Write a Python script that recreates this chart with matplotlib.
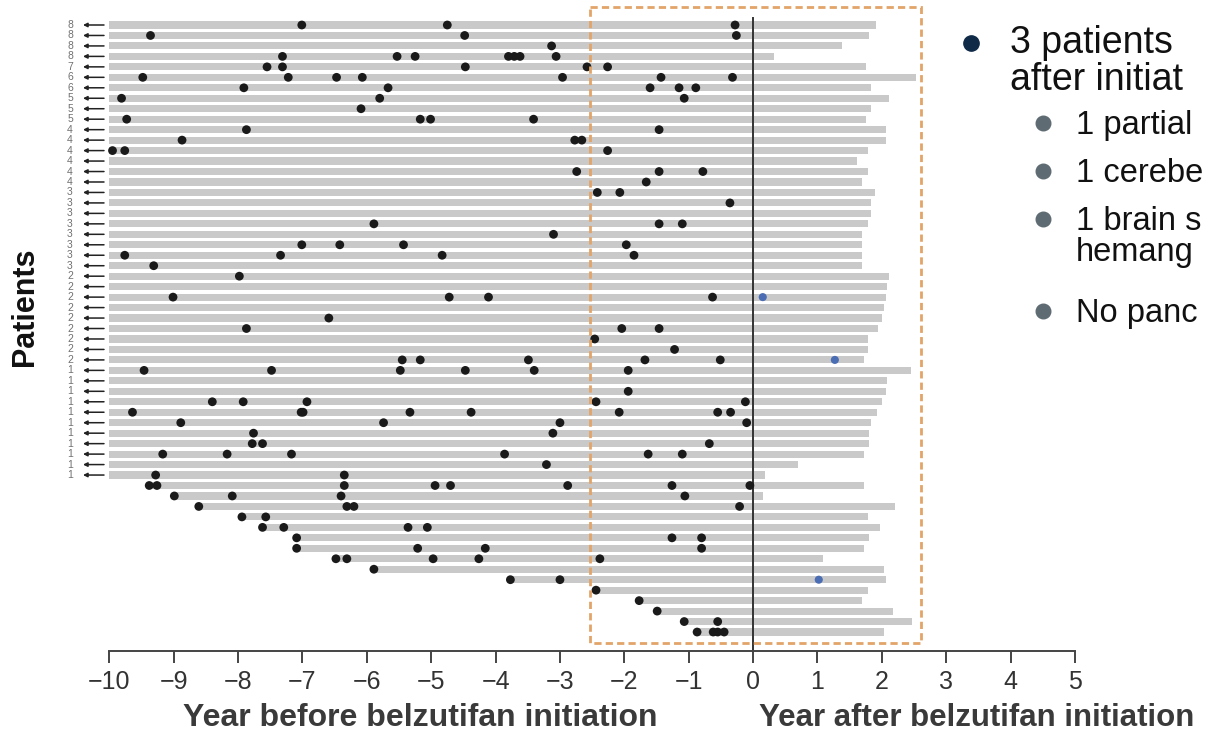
import matplotlib
matplotlib.use('Agg')
import matplotlib.pyplot as plt
from matplotlib.patches import Rectangle

plt.rcParams['font.family'] = ['Liberation Sans', 'DejaVu Sans']

# ---- data (years relative to belzutifan initiation), one entry per patient row, top to bottom
row_labels = ['8'] * 4 + ['7'] + ['6'] * 2 + ['5'] * 3 + ['4'] * 6 + ['3'] * 8 + ['2'] * 9 + ['1'] * 11 + [''] * 15

bar_start = [-10] * 44 + [-9.38, -8.99, -8.61, -7.94, -7.62, -7.09, -7.09, -6.48,
                          -5.89, -3.77, -2.44, -1.77, -1.49, -1.07, -0.87]

bar_end = [1.91, 1.80, 1.38, 0.32, 1.75, 2.53, 1.83, 2.11, 1.83, 1.75,
           2.06, 2.06, 1.78, 1.61, 1.78, 1.69, 1.89, 1.83, 1.83, 1.78,
           1.69, 1.69, 1.69, 1.69, 2.11, 2.08, 2.06, 2.03, 2.00, 1.94,
           1.78, 1.78, 1.72, 2.45, 2.08, 2.06, 2.00, 1.92, 1.83, 1.80,
           1.80, 1.72, 0.69, 0.19, 1.72, 0.16, 2.21, 1.78, 1.97, 1.80,
           1.72, 1.08, 2.03, 2.06, 1.78, 1.69, 2.17, 2.47, 2.03]

surgery_years = [
    [-7.01, -4.75, -0.28],
    [-9.36, -4.48, -0.26],
    [-3.13],
    [-7.31, -5.53, -5.25, -3.80, -3.71, -3.62, -3.06],
    [-7.55, -7.31, -4.47, -2.58, -2.26],
    [-9.48, -7.22, -6.47, -6.07, -2.96, -1.43, -0.32],
    [-7.91, -5.67, -1.60, -1.15, -0.89],
    [-9.81, -5.80, -1.07],
    [-6.09],
    [-9.73, -5.17, -5.01, -3.41],
    [-7.87, -1.46],
    [-8.87, -2.77, -2.66],
    [-9.95, -9.76, -2.26],
    [],
    [-2.74, -1.46, -0.78],
    [-1.66],
    [-2.42, -2.07],
    [-0.36],
    [],
    [-5.89, -1.46, -1.10],
    [-3.10],
    [-7.01, -6.42, -5.43, -1.97],
    [-9.76, -7.34, -4.83, -1.85],
    [-9.31],
    [-7.98],
    [],
    [-9.01, -4.72, -4.11, -0.63],
    [],
    [-6.59],
    [-7.87, -2.04, -1.46],
    [-2.46],
    [-1.22],
    [-5.45, -5.17, -3.49, -1.68, -0.51],
    [-9.46, -7.48, -5.48, -4.47, -3.40, -1.94],
    [],
    [-1.94],
    [-8.40, -7.92, -6.93, -2.44, -0.12],
    [-9.64, -7.02, -6.99, -5.33, -4.38, -2.08, -0.55, -0.35],
    [-8.89, -5.74, -3.00, -0.10],
    [-7.76, -3.11],
    [-7.78, -7.62, -0.68],
    [-9.17, -8.17, -7.17, -3.86, -1.63, -1.10],
    [-3.21],
    [-9.28, -6.35],
    [-9.38, -9.26, -6.35, -4.94, -4.70, -2.88, -1.26, -0.05],
    [-8.99, -8.09, -6.40, -1.06],
    [-8.61, -6.31, -6.20, -0.21],
    [-7.94, -7.57],
    [-7.62, -7.29, -5.36, -5.06],
    [-7.09, -1.26, -0.80],
    [-7.09, -5.21, -4.16, -0.80],
    [-6.48, -6.31, -4.97, -4.26, -2.38],
    [-5.89],
    [-3.77, -3.00],
    [-2.44],
    [-1.77],
    [-1.49],
    [-1.07, -0.55],
    [-0.87, -0.62, -0.55, -0.45],
]

# surgeries after initiation (blue)
after_rows = [26, 32, 53]
after_years = [0.15, 1.27, 1.02]

x_ticks = list(range(-10, 6))

# slide text at the right (cut off at the slide edge in the source)
main_lines = ['3 patients', 'after initiat']
sub_lines = ['1 partial', '1 cerebe', '1 brain s', 'No panc']
sub_wrap = 'hemang'

# ---- pixel layout helpers (axes fill the whole figure)
X0, XS = 753.1, 64.38
Y0, YS = 25.0, 10.466


def dx(px):
    return (px - X0) / XS


def dy(py):
    return (py - Y0) / YS


fig = plt.figure(figsize=(12.07, 7.37), dpi=100)
ax = fig.add_axes([0, 0, 1, 1])
ax.set_xlim(dx(0), dx(1207))
ax.set_ylim(dy(737), dy(0))

rows = list(range(len(bar_end)))
widths = [e - s for s, e in zip(bar_start, bar_end)]
ax.barh(rows, widths, left=bar_start, height=0.68, color='#c9c9c9', zorder=1)

# vertical line at initiation
ax.plot([0, 0], [dy(18), dy(651)], color='#333333', lw=1.4, zorder=2)

# surgeries before initiation
dot_x, dot_y = [], []
for r, yrs in enumerate(surgery_years):
    dot_x += yrs
    dot_y += [r] * len(yrs)
ax.scatter(dot_x, dot_y, s=40, color='#1a1a1a', edgecolors='none', zorder=3)
ax.scatter(after_years, after_rows, s=34, color='#4a6db3', edgecolors='none', zorder=3)

# row labels (number of surgeries) and arrows for patients with earlier history
for r, lab in enumerate(row_labels):
    if lab:
        ax.text(dx(70), r, lab, ha='center', va='center', fontsize=7.5, color='#707070')
        ax.annotate('', xy=(dx(83), r), xytext=(dx(104), r),
                    arrowprops=dict(arrowstyle='-|>', lw=1.1, color='#222222',
                                    mutation_scale=6, shrinkA=0, shrinkB=0))

# dashed highlight box
ax.add_patch(Rectangle((-2.54, dy(7)), 2.61 + 2.54, dy(642.5) - dy(7), fill=False,
                       edgecolor='#e2a468', lw=2, linestyle=(0, (2.6, 1.5)), zorder=4))

# x axis
for s in ['top', 'right', 'left']:
    ax.spines[s].set_visible(False)
ax.spines['bottom'].set_position(('data', dy(651)))
ax.spines['bottom'].set_bounds(-10, 5)
ax.spines['bottom'].set_color('#444444')
ax.spines['bottom'].set_linewidth(1.4)
ax.set_xticks(x_ticks)
ax.tick_params(axis='x', direction='out', length=8.6, width=1.4, color='#444444',
               labelsize=18, labelcolor='#333333', pad=5)
ax.set_yticks([])

ax.text(dx(420), dy(718), 'Year before belzutifan initiation', ha='center', va='center',
        fontsize=23, fontweight='bold', color='#3a3a3a')
ax.text(dx(977), dy(718), 'Year after belzutifan initiation', ha='center', va='center',
        fontsize=22.5, fontweight='bold', color='#3a3a3a')
ax.text(dx(25), dy(307), 'Patients', ha='center', va='center', rotation=90,
        fontsize=22, fontweight='bold', color='#111111')

# bullet text on the right
ax.plot([dx(971)], [dy(43)], 'o', ms=11, color='#0e2a47', clip_on=False)
ax.text(dx(1010), dy(53), main_lines[0], fontsize=27, color='#111111', va='baseline', ha='left')
ax.text(dx(1010), dy(90), main_lines[1], fontsize=27, color='#111111', va='baseline', ha='left')

for py, txt in zip([123, 171, 219, 311], sub_lines):
    ax.plot([dx(1043)], [dy(py)], 'o', ms=10.5, color='#5e6b73', clip_on=False)
    ax.text(dx(1076), dy(py + 11), txt, fontsize=23.5, color='#111111', va='baseline', ha='left')
ax.text(dx(1076), dy(261), sub_wrap, fontsize=23.5, color='#111111', va='baseline', ha='left')

fig.savefig('out.png', dpi=100)
